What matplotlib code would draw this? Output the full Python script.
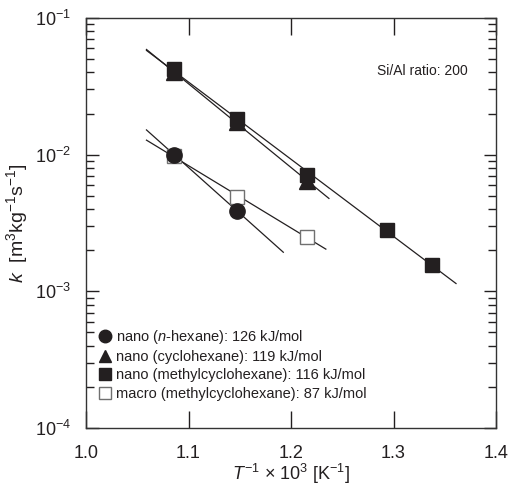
import numpy as np
import matplotlib
matplotlib.use("Agg")
import matplotlib.pyplot as plt
from matplotlib.ticker import LogLocator, NullFormatter

plt.rcParams['font.family'] = ['Liberation Sans', 'DejaVu Sans']
plt.rcParams['mathtext.fontset'] = 'custom'
plt.rcParams['mathtext.rm'] = 'Liberation Sans'
plt.rcParams['mathtext.it'] = 'Liberation Sans:italic'
plt.rcParams['mathtext.default'] = 'rm'

### data ###
x_hex = [1.086, 1.147]
k_hex = [0.0100, 0.0039]

x_cyc = [1.086, 1.147, 1.216]
k_cyc = [0.0400, 0.0172, 0.0064]

x_mch = [1.086, 1.147, 1.216, 1.294, 1.338]
k_mch = [0.0421, 0.0182, 0.0071, 0.00281, 0.00155]

x_mac = [1.086, 1.147, 1.216]
k_mac = [0.0098, 0.0049, 0.0025]

labels = [r"nano ($\mathit{n}$-hexane): 126 kJ/mol",
          "nano (cyclohexane): 119 kJ/mol",
          "nano (methylcyclohexane): 116 kJ/mol",
          "macro (methylcyclohexane): 87 kJ/mol"]

# x range over which each fitted line is drawn
fit_range = [(1.059, 1.1925), (1.059, 1.237), (1.059, 1.361), (1.059, 1.234)]

ink = '#231f20'

fig = plt.figure(figsize=(5.10, 4.88), dpi=100)
ax = fig.add_axes([86/510, 1-428/488, 410/510, 410/488])

series = [(x_hex, k_hex, 'o', ink, ink),
          (x_cyc, k_cyc, '^', ink, ink),
          (x_mch, k_mch, 's', ink, ink),
          (x_mac, k_mac, 's', 'white', '#707070')]

# fitted Arrhenius lines (straight in log space)
for (xs, ks, m, fc, ec), (x0, x1) in zip(series, fit_range):
    p = np.polyfit(xs, np.log10(ks), 1)
    xf = np.array([x0, x1])
    ax.plot(xf, 10**np.polyval(p, xf), color=ink, lw=0.9, zorder=1)

# open squares at the back, filled markers on top
order = [3, 0, 1, 2]
for z, i in enumerate(order):
    xs, ks, m, fc, ec = series[i]
    ms = 11 if m == 'o' else (12 if m == '^' else 10)
    ax.plot(xs, ks, linestyle='none', marker=m, ms=ms, mfc=fc, mec=ec,
            mew=1.0, zorder=2+z)

ax.set_yscale('log')
ax.set_xlim(1.0, 1.4)
ax.set_ylim(1e-4, 1e-1)
ax.set_xticks([1.0, 1.1, 1.2, 1.3, 1.4])
ax.set_xticklabels(['1.0', '1.1', '1.2', '1.3', '1.4'])
ax.yaxis.set_major_locator(LogLocator(base=10, numticks=10))
ax.yaxis.set_minor_locator(LogLocator(base=10, subs=np.arange(2, 10), numticks=10))
ax.yaxis.set_minor_formatter(NullFormatter())

ax.tick_params(which='both', direction='in', top=True, right=True,
               labelsize=13, colors=ink, width=1.0)
ax.tick_params(axis='x', which='major', length=12, pad=12)
ax.tick_params(axis='y', which='major', length=9, pad=11)
ax.tick_params(axis='y', which='minor', length=6)
ax.tick_params(axis='x', which='minor', bottom=False, top=False)
for s in ax.spines.values():
    s.set_linewidth(1.0)
    s.set_color('#333333')

ax.set_xlabel(r'$\mathit{T}^{-1}$ × 10$^3$ [K$^{-1}$]', fontsize=13, color=ink, labelpad=0)
ax.set_ylabel(r'$\mathit{k}$  [m$^3$kg$^{-1}$s$^{-1}$]', fontsize=14, color=ink)
ax.yaxis.set_label_coords(-56/410, 0.5)

ax.text(0.93, 0.87, 'Si/Al ratio: 200', transform=ax.transAxes, ha='right',
        va='center', fontsize=10, color=ink)

leg_handles = []
for i in range(4):
    xs, ks, m, fc, ec = series[i]
    leg_handles.append(plt.Line2D([], [], linestyle='none', marker=m, ms=9,
                                  mfc=fc, mec=ec, mew=1.0))
ax.legend(leg_handles, labels, loc='lower left', bbox_to_anchor=(0.01, 0.045),
          frameon=False, fontsize=10.5, handlelength=0.8, handletextpad=0.35,
          labelspacing=0.3, borderaxespad=0.2, labelcolor=ink)

fig.savefig('out.png', dpi=100)
